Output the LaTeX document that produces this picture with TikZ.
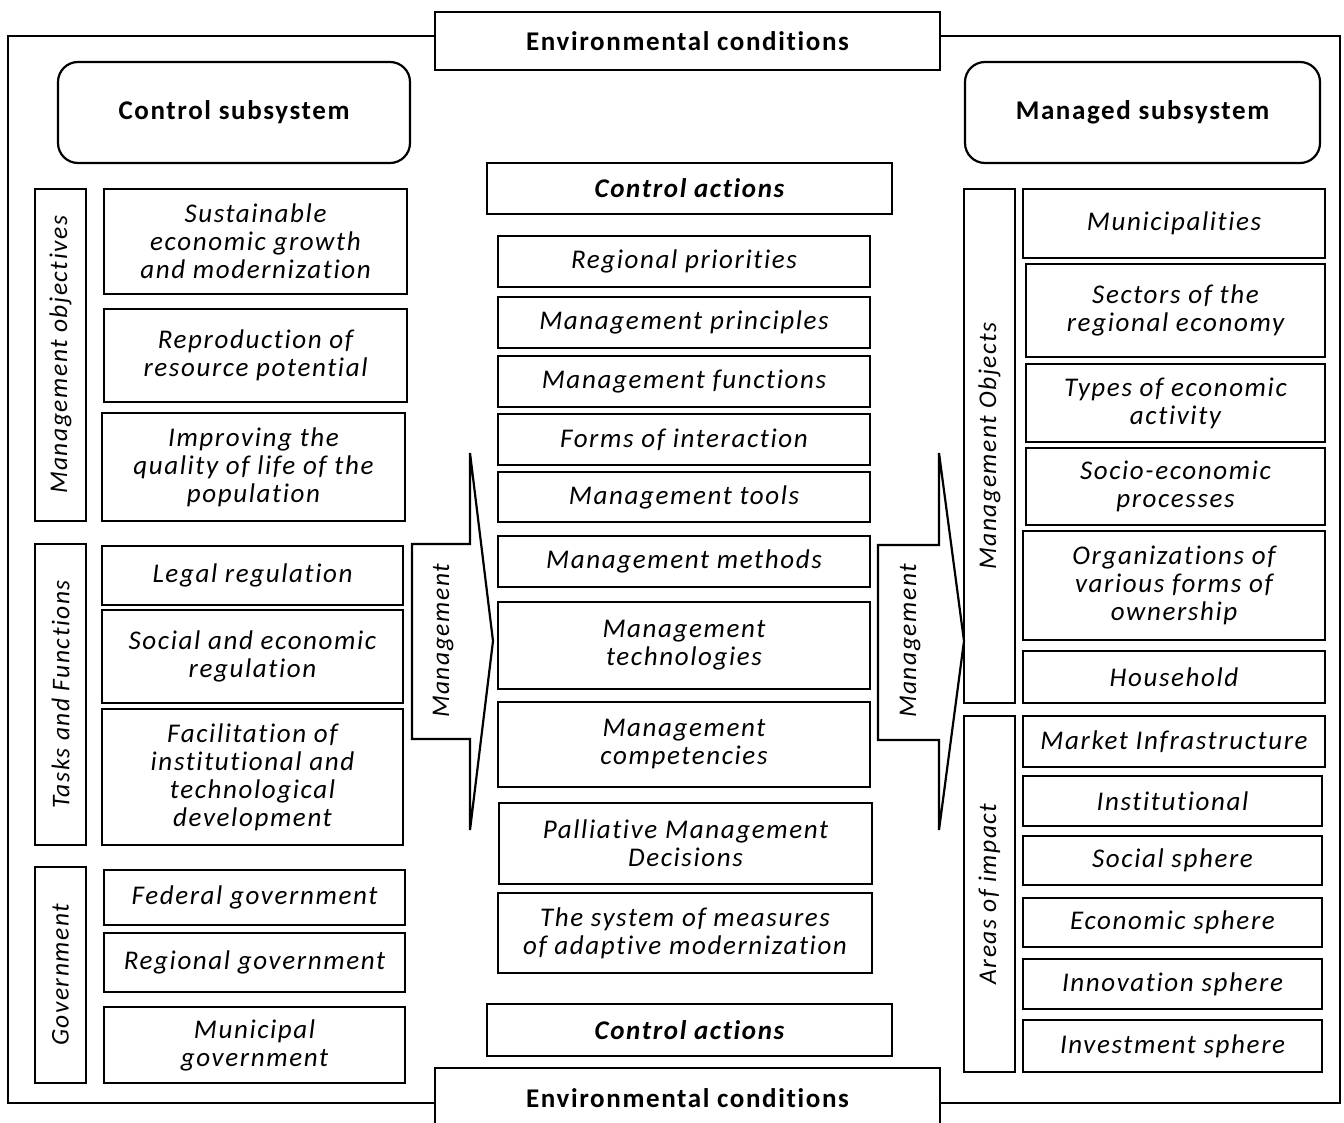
\documentclass[tikz,border=0pt]{standalone}
\usepackage{fontspec}
\setmainfont{Carlito}
\newfontfamily\itemfont[LetterSpace=6,Ligatures={NoCommon,NoDiscretionary}]{Carlito}

\begin{document}
\begin{tikzpicture}[x=0.5pt,y=-0.5pt,line width=1.1pt,
	cell/.style n args={4}{minimum width={(#3-#1)*0.5pt}, minimum height={(#4-#2)*0.5pt}, at={({(#1+#3)/2},{(#2+#4)/2})}},
	box/.style={draw, inner sep=0pt, align=center, font=\itemfont\fontsize{13.5}{14}\selectfont\itshape},
	head/.style={draw, inner sep=0pt, align=center, font=\itemfont\fontsize{13.5}{16}\selectfont\bfseries},
	rhead/.style={head, rounded corners=10pt},
	act/.style={draw, inner sep=0pt, font=\itemfont\fontsize{13.5}{16}\selectfont\bfseries\itshape},
	side/.style={draw, inner sep=0pt},
	vlabel/.style={rotate=90, inner sep=0pt, font=\itemfont\fontsize{12.75}{16}\selectfont\itshape}]
		\useasboundingbox (0,0) rectangle (1344,1123);
		\node[head, cell={435}{12}{940}{70}] (envtop) {Environmental conditions};
		\node[head, cell={435}{1068}{940}{1128}] (envbot) {Environmental conditions};
		\draw (435,36) -| (8,1103) -- (435,1103);
		\draw (940,36) -| (1340,1103) -- (940,1103);
		\node[rhead, cell={58}{62}{410}{163}] (ctrl) {Control subsystem};
		\node[rhead, cell={965}{62}{1320}{163}] (mngd) {Managed subsystem};

		\node[side, cell={35}{189}{86}{521}] (objs) {};
		\node[vlabel] at (objs) {Management objectives};
		\node[side, cell={35}{544}{86}{845}] (tasks) {};
		\node[vlabel] at (tasks) {Tasks and Functions};
		\node[side, cell={35}{867}{86}{1083}] (gov) {};
		\node[vlabel] at (gov) {Government};
		\node[box, cell={104}{189}{407}{294}] (sust) {Sustainable\\economic growth\\and modernization};
		\node[box, cell={104}{309}{407}{402}] (repr) {Reproduction of\\resource potential};
		\node[box, cell={102}{413}{405}{521}] (qual) {Improving the\\quality of life of the\\population};
		\node[box, cell={102}{546}{403}{605}] (legal) {Legal regulation};
		\node[box, cell={102}{610}{403}{703}] (socreg) {Social and economic\\regulation};
		\node[box, cell={102}{709}{403}{845}] (facil) {Facilitation of\\institutional and\\technological\\development};
		\node[box, cell={104}{870}{405}{925}] (fedgov) {Federal government};
		\node[box, cell={104}{933}{405}{992}] (reggov) {Regional government};
		\node[box, cell={104}{1007}{405}{1083}] (mungov) {Municipal\\government};

		\node[act, cell={487}{163}{892}{214}] (acttop) {Control actions};
		\node[box, cell={498}{236}{870}{287}] (prio) {Regional priorities};
		\node[box, cell={498}{297}{870}{348}] (princ) {Management principles};
		\node[box, cell={498}{356}{870}{407}] (func) {Management functions};
		\node[box, cell={498}{414}{870}{465}] (forms) {Forms of interaction};
		\node[box, cell={498}{472}{870}{522}] (tools) {Management tools};
		\node[box, cell={498}{536}{870}{587}] (meth) {Management methods};
		\node[box, cell={498}{602}{870}{689}] (tech) {Management\\technologies};
		\node[box, cell={498}{702}{870}{787}] (comp) {Management\\competencies};
		\node[box, cell={499}{803}{872}{884}] (pall) {Palliative Management\\Decisions};
		\node[box, cell={498}{893}{872}{973}] (adapt) {The system of measures\\of adaptive modernization};
		\node[act, cell={487}{1004}{892}{1056}] (actbot) {Control actions};

		\draw (412,544) -- (470,544) -- (470,453) -- (493,641) -- (470,830) -- (470,739) -- (412,739) -- cycle;
		\node[vlabel] (larr) at (443,641) {Management};
		\draw (878,545) -- (939,545) -- (939,453) -- (964,641) -- (939,830) -- (939,740) -- (878,740) -- cycle;
		\node[vlabel] (rarr) at (910,641) {Management};

		\node[side, cell={964}{189}{1015}{703}] (mobj) {};
		\node[vlabel] at (mobj) {Management Objects};
		\node[side, cell={964}{716}{1015}{1072}] (areas) {};
		\node[vlabel] at (areas) {Areas of impact};
		\node[box, cell={1023}{189}{1325}{258}] (munic) {Municipalities};
		\node[box, cell={1026}{264}{1325}{357}] (sect) {Sectors of the\\regional economy};
		\node[box, cell={1026}{364}{1325}{442}] (types) {Types of economic\\activity};
		\node[box, cell={1026}{448}{1325}{525}] (proc) {Socio-economic\\processes};
		\node[box, cell={1023}{531}{1325}{640}] (orgs) {Organizations of\\various forms of\\ownership};
		\node[box, cell={1023}{651}{1325}{703}] (house) {Household};
		\node[box, cell={1023}{716}{1325}{767}] (market) {Market Infrastructure};
		\node[box, cell={1023}{776}{1322}{826}] (inst) {Institutional};
		\node[box, cell={1023}{836}{1322}{885}] (social) {Social sphere};
		\node[box, cell={1023}{898}{1322}{947}] (econ) {Economic sphere};
		\node[box, cell={1023}{959}{1322}{1009}] (innov) {Innovation sphere};
		\node[box, cell={1023}{1020}{1322}{1072}] (invest) {Investment sphere};
\end{tikzpicture}
\end{document}
